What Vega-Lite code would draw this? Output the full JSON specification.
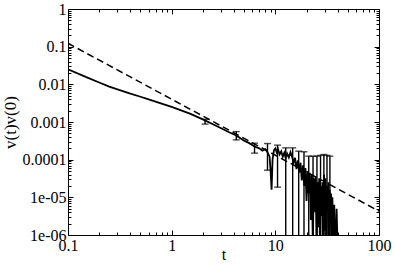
{
  "$schema": "https://vega.github.io/schema/vega-lite/v6.json",
  "autosize": "none",
  "width": 311,
  "height": 226,
  "padding": {"left": 68, "top": 9, "right": 16, "bottom": 32},
  "background": "white",
  "config": {"view": {"stroke": null}},
  "datasets": {
    "dash": [
      {"t": 0.1, "v": 0.123},
      {"t": 100, "v": 0.0000043}
    ],
    "solid": [
      {"t": 0.1, "v": 0.0251}, {"t": 0.15, "v": 0.0155}, {"t": 0.2, "v": 0.0112}, {"t": 0.25, "v": 0.0087},
      {"t": 0.3, "v": 0.00735}, {"t": 0.4, "v": 0.00565}, {"t": 0.5, "v": 0.00468}, {"t": 0.6, "v": 0.00398},
      {"t": 0.8, "v": 0.00309}, {"t": 1.0, "v": 0.00251}, {"t": 1.5, "v": 0.00166}, {"t": 2.0, "v": 0.00117},
      {"t": 2.5, "v": 0.00087}, {"t": 3.0, "v": 0.00068}, {"t": 3.5, "v": 0.00055}, {"t": 4.2, "v": 0.00044},
      {"t": 5.0, "v": 0.00032}, {"t": 5.6, "v": 0.000275}, {"t": 6.3, "v": 0.000224}, {"t": 7.0, "v": 0.0002},
      {"t": 7.5, "v": 0.000174}, {"t": 8.0, "v": 0.00019}, {"t": 8.4, "v": 0.000158}, {"t": 8.8, "v": 0.00012},
      {"t": 9.0, "v": 0.00005}, {"t": 9.2, "v": 0.000016}, {"t": 9.4, "v": 0.0001}, {"t": 9.7, "v": 0.000178},
      {"t": 10.0, "v": 0.0002}, {"t": 10.3, "v": 0.000158}, {"t": 10.6, "v": 0.00019}, {"t": 11.0, "v": 0.000138},
      {"t": 11.4, "v": 0.000166}, {"t": 11.8, "v": 0.00012}, {"t": 12.2, "v": 0.000151}, {"t": 12.6, "v": 0.00011},
      {"t": 13.0, "v": 0.000145}, {"t": 13.5, "v": 0.000115}, {"t": 14.0, "v": 0.000158}, {"t": 14.5, "v": 0.00012},
      {"t": 15.0, "v": 0.000083}, {"t": 15.5, "v": 0.000112}, {"t": 16.0, "v": 0.000056}, {"t": 16.5, "v": 0.000095},
      {"t": 17.0, "v": 0.000045}, {"t": 17.5, "v": 0.000083}, {"t": 18.0, "v": 0.000028}, {"t": 18.5, "v": 0.000071},
      {"t": 19.0, "v": 0.00002}, {"t": 19.5, "v": 0.00006}, {"t": 20.0, "v": 0.000008}, {"t": 20.5, "v": 0.00005},
      {"t": 21.0, "v": 0.0000126}, {"t": 21.5, "v": 0.000045}, {"t": 22.0, "v": 0.0000025}, {"t": 22.5, "v": 0.00004},
      {"t": 23.0, "v": 0.0000005}, {"t": 23.5, "v": 0.000032}, {"t": 24.0, "v": 0.000004}, {"t": 24.5, "v": 0.000035},
      {"t": 25.0, "v": 0.00000032}, {"t": 25.5, "v": 0.000025}, {"t": 26.0, "v": 0.0000016}, {"t": 26.5, "v": 0.000032},
      {"t": 27.0, "v": 0.00000025}, {"t": 27.5, "v": 0.00002}, {"t": 28.0, "v": 0.0000032}, {"t": 28.5, "v": 0.000025},
      {"t": 29.0, "v": 0.0000001}, {"t": 29.5, "v": 0.00004}, {"t": 30.0, "v": 0.00000126}, {"t": 30.5, "v": 0.000032},
      {"t": 31.0, "v": 0.00000025}, {"t": 31.5, "v": 0.00002}, {"t": 32.0, "v": 0.000004}, {"t": 32.5, "v": 0.000025},
      {"t": 33.0, "v": 0.0000001}, {"t": 33.5, "v": 0.000016}, {"t": 34.0, "v": 0.0000025}, {"t": 34.5, "v": 0.0000126},
      {"t": 35.0, "v": 0.00000016}, {"t": 35.5, "v": 0.00001}, {"t": 36.0, "v": 0.000001}, {"t": 37.0, "v": 0.0000063},
      {"t": 38.0, "v": 0.0000002}, {"t": 39.0, "v": 0.000005}, {"t": 40.0, "v": 0.00000032}
    ],
    "err": [
      {"t": 2.1, "lo": 0.00088, "hi": 0.00118},
      {"t": 4.2, "lo": 0.000335, "hi": 0.000556},
      {"t": 6.3, "lo": 0.000149, "hi": 0.000274},
      {"t": 8.4, "lo": 0.0000525, "hi": 0.000268},
      {"t": 10.5, "lo": 0.0000186, "hi": 0.000243},
      {"t": 12.6, "lo": 0.00000001, "hi": 0.000206},
      {"t": 14.7, "lo": 0.00000001, "hi": 0.000206},
      {"t": 16.8, "lo": 0.00000001, "hi": 0.000168},
      {"t": 18.9, "lo": 0.00000001, "hi": 0.000162},
      {"t": 21.0, "lo": 0.00000001, "hi": 0.000124},
      {"t": 23.1, "lo": 0.00000001, "hi": 0.000124},
      {"t": 25.2, "lo": 0.00000001, "hi": 0.000124},
      {"t": 27.3, "lo": 0.00000001, "hi": 0.00013},
      {"t": 29.4, "lo": 0.00000001, "hi": 0.000137},
      {"t": 31.5, "lo": 0.00000001, "hi": 0.00013},
      {"t": 33.6, "lo": 0.00000001, "hi": 0.000124}
    ]
  },
  "layer": [
    {
      "data": {"name": "dash"},
      "mark": {"type": "line", "color": "black", "strokeWidth": 1.5, "strokeDash": [7, 4], "clip": true},
      "encoding": {
        "x": {
          "field": "t", "type": "quantitative",
          "scale": {"type": "log", "domain": [0.1, 100], "nice": false},
          "axis": {
            "orient": "bottom",
            "values": [0.1,0.2,0.3,0.4,0.5,0.6,0.7,0.8,0.9,1,2,3,4,5,6,7,8,9,10,20,30,40,50,60,70,80,90,100],
            "tickSize": {"condition": {"test": "abs(log(datum.value)/LN10 - round(log(datum.value)/LN10)) < 0.001", "value": -5}, "value": -3},
            "labelExpr": "datum.value == 0.1 ? '0.1' : datum.value == 1 ? '1' : datum.value == 10 ? '10' : datum.value == 100 ? '100' : ''",
            "labelPadding": 7,
            "labelFont": "Liberation Serif", "labelFontSize": 16, "labelColor": "black",
            "labelOverlap": false, "labelFlush": false, "labelBound": false,
            "title": "t", "titleFont": "Liberation Serif", "titleFontSize": 16, "titleFontWeight": "normal", "titleColor": "black", "titlePadding": -9,
            "domainColor": "black", "tickColor": "black", "grid": false
          }
        },
        "y": {
          "field": "v", "type": "quantitative",
          "scale": {"type": "log", "domain": [0.000001, 1], "nice": false},
          "axis": {
            "orient": "left",
            "values": [0.000001,0.000002,0.000003,0.000004,0.000005,0.000006,0.000007,0.000008,0.000009,
                       0.00001,0.00002,0.00003,0.00004,0.00005,0.00006,0.00007,0.00008,0.00009,
                       0.0001,0.0002,0.0003,0.0004,0.0005,0.0006,0.0007,0.0008,0.0009,
                       0.001,0.002,0.003,0.004,0.005,0.006,0.007,0.008,0.009,
                       0.01,0.02,0.03,0.04,0.05,0.06,0.07,0.08,0.09,
                       0.1,0.2,0.3,0.4,0.5,0.6,0.7,0.8,0.9,1],
            "tickSize": {"condition": {"test": "abs(log(datum.value)/LN10 - round(log(datum.value)/LN10)) < 0.001", "value": -5}, "value": -3},
            "labelExpr": "datum.value == 1 ? '1' : datum.value == 0.1 ? '0.1' : datum.value == 0.01 ? '0.01' : datum.value == 0.001 ? '0.001' : datum.value == 0.0001 ? '0.0001' : datum.value == 0.00001 ? '1e-05' : datum.value == 0.000001 ? '1e-06' : ''",
            "labelPadding": 7,
            "labelFont": "Liberation Serif", "labelFontSize": 16, "labelColor": "black",
            "labelOverlap": false, "labelFlush": false, "labelBound": false,
            "title": "v(t)v(0)", "titleFont": "Liberation Serif", "titleFontSize": 17, "titleFontWeight": "normal", "titleColor": "black", "titlePadding": 3,
            "domainColor": "black", "tickColor": "black", "grid": false
          }
        }
      }
    },
    {
      "data": {"name": "solid"},
      "mark": {"type": "line", "color": "black", "strokeWidth": 1.8, "clip": true},
      "encoding": {
        "x": {
          "field": "t", "type": "quantitative",
          "axis": {
            "orient": "top",
            "values": [0.1,0.2,0.3,0.4,0.5,0.6,0.7,0.8,0.9,1,2,3,4,5,6,7,8,9,10,20,30,40,50,60,70,80,90,100],
            "tickSize": {"condition": {"test": "abs(log(datum.value)/LN10 - round(log(datum.value)/LN10)) < 0.001", "value": -5}, "value": -3},
            "labels": false, "title": null,
            "domainColor": "black", "tickColor": "black", "grid": false
          }
        },
        "y": {
          "field": "v", "type": "quantitative",
          "axis": {
            "orient": "right",
            "values": [0.000001,0.000002,0.000003,0.000004,0.000005,0.000006,0.000007,0.000008,0.000009,
                       0.00001,0.00002,0.00003,0.00004,0.00005,0.00006,0.00007,0.00008,0.00009,
                       0.0001,0.0002,0.0003,0.0004,0.0005,0.0006,0.0007,0.0008,0.0009,
                       0.001,0.002,0.003,0.004,0.005,0.006,0.007,0.008,0.009,
                       0.01,0.02,0.03,0.04,0.05,0.06,0.07,0.08,0.09,
                       0.1,0.2,0.3,0.4,0.5,0.6,0.7,0.8,0.9,1],
            "tickSize": {"condition": {"test": "abs(log(datum.value)/LN10 - round(log(datum.value)/LN10)) < 0.001", "value": -5}, "value": -3},
            "labels": false, "title": null,
            "domainColor": "black", "tickColor": "black", "grid": false
          }
        }
      }
    },
    {
      "data": {"name": "err"},
      "mark": {"type": "rule", "color": "black", "strokeWidth": 1.4, "clip": true},
      "encoding": {
        "x": {"field": "t", "type": "quantitative", "axis": null},
        "y": {"field": "lo", "type": "quantitative", "axis": null},
        "y2": {"field": "hi"}
      }
    },
    {
      "data": {"name": "err"},
      "mark": {"type": "tick", "color": "black", "orient": "horizontal", "size": 7, "thickness": 1.4, "clip": true},
      "encoding": {
        "x": {"field": "t", "type": "quantitative", "axis": null},
        "y": {"field": "hi", "type": "quantitative", "axis": null}
      }
    },
    {
      "data": {"name": "err"},
      "mark": {"type": "tick", "color": "black", "orient": "horizontal", "size": 7, "thickness": 1.4, "clip": true},
      "encoding": {
        "x": {"field": "t", "type": "quantitative", "axis": null},
        "y": {"field": "lo", "type": "quantitative", "axis": null}
      }
    }
  ],
  "resolve": {"axis": {"x": "independent", "y": "independent"}}
}
